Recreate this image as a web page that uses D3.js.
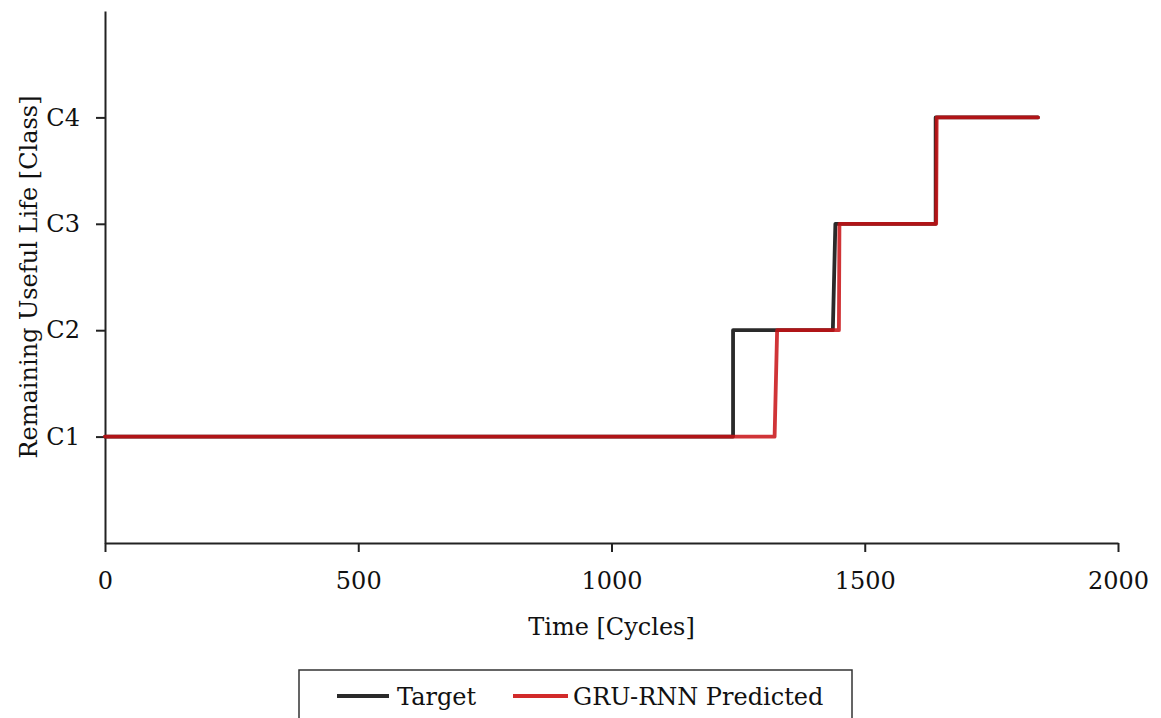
<!DOCTYPE html>
<html>
<head>
<meta charset="utf-8">
<script src="https://cdn.jsdelivr.net/npm/d3@7"></script>
<style>
  html, body { margin: 0; padding: 0; background: #fff; }
  svg { display: block; font-family: "DejaVu Serif", serif; }
</style>
</head>
<body>
<svg id="chart" width="1161" height="718"></svg>
<script>
// Remaining-useful-life class over time: target vs. GRU-RNN prediction
const classTicks = [1, 2, 3, 4];
const classLabels = ["C1", "C2", "C3", "C4"];
const timeTicks = [0, 500, 1000, 1500, 2000];

// Breakpoints of each step series: [cycle, class]
const targetSeries = [
  [0, 1], [1240, 1], [1240, 2], [1437, 2], [1442, 3],
  [1640, 3], [1640, 4], [1842, 4]
];
const predictedSeries = [
  [0, 1], [1322, 1], [1327, 2], [1449, 2], [1450, 3],
  [1641, 3], [1642, 4], [1842, 4]
];

const seriesNames = ["Target", "GRU-RNN Predicted"];
const seriesColors = ["#2a2a2a", "rgb(200,16,20)"];

const svg = d3.select("#chart");
const m = { left: 105, right: 1118, top: 11, bottom: 543 };

const x = d3.scaleLinear().domain([0, 2000]).range([m.left, m.right]);
const y = d3.scaleLinear().domain([0, 5]).range([m.bottom, m.top]);

const axisColor = "#222";
const fontSize = 24;

// X axis
const gx = svg.append("g")
  .attr("transform", `translate(0,${m.bottom})`)
  .call(d3.axisBottom(x).tickValues(timeTicks).tickFormat(d3.format("d"))
    .tickSize(9).tickPadding(20).tickSizeOuter(0));
gx.select(".domain").attr("stroke", axisColor).attr("stroke-width", 2);
gx.selectAll(".tick line").attr("stroke", axisColor).attr("stroke-width", 2);
gx.selectAll(".tick text")
  .attr("fill", "#111")
  .style("font-family", "DejaVu Serif")
  .style("font-size", fontSize + "px");

// Y axis
const gy = svg.append("g")
  .attr("transform", `translate(${m.left},0)`)
  .call(d3.axisLeft(y).tickValues(classTicks)
    .tickFormat((d, i) => classLabels[i])
    .tickSize(9).tickPadding(16).tickSizeOuter(0));
gy.select(".domain").attr("stroke", axisColor).attr("stroke-width", 2);
gy.selectAll(".tick line").attr("stroke", axisColor).attr("stroke-width", 2);
gy.selectAll(".tick text")
  .attr("fill", "#111")
  .style("font-family", "DejaVu Serif")
  .style("font-size", fontSize + "px");

// Axis titles
svg.append("text")
  .attr("x", (m.left + m.right) / 2)
  .attr("y", 635)
  .attr("text-anchor", "middle")
  .attr("fill", "#111")
  .style("font-size", fontSize + "px")
  .text("Time [Cycles]");

svg.append("text")
  .attr("transform", `translate(37,${(m.top + m.bottom) / 2}) rotate(-90)`)
  .attr("text-anchor", "middle")
  .attr("fill", "#111")
  .style("font-size", fontSize + "px")
  .text("Remaining Useful Life [Class]");

// Step lines
const line = d3.line().x(d => x(d[0])).y(d => y(d[1]));

svg.append("path")
  .datum(targetSeries)
  .attr("d", line)
  .attr("fill", "none")
  .attr("stroke", seriesColors[0])
  .attr("stroke-width", 3.8)
  .attr("stroke-linecap", "round")
  .attr("stroke-linejoin", "round");

svg.append("path")
  .datum(predictedSeries)
  .attr("d", line)
  .attr("fill", "none")
  .attr("stroke", seriesColors[1])
  .attr("stroke-opacity", 0.85)
  .attr("stroke-width", 3.8)
  .attr("stroke-linecap", "round")
  .attr("stroke-linejoin", "round");

// Legend
const legend = svg.append("g");
legend.append("rect")
  .attr("x", 299).attr("y", 670)
  .attr("width", 553).attr("height", 60)
  .attr("fill", "#fff")
  .attr("stroke", "#333")
  .attr("stroke-width", 1.5);

const legendItems = [
  { x0: 337, x1: 389, tx: 397 },
  { x0: 513, x1: 568, tx: 573 }
];
legendItems.forEach((it, i) => {
  legend.append("line")
    .attr("x1", it.x0).attr("x2", it.x1)
    .attr("y1", 696).attr("y2", 696)
    .attr("stroke", i === 0 ? seriesColors[0] : "#d22a2a")
    .attr("stroke-width", 3.8);
  legend.append("text")
    .attr("x", it.tx).attr("y", 705)
    .attr("fill", "#111")
    .style("font-size", fontSize + "px")
    .text(seriesNames[i]);
});
</script>
</body>
</html>
